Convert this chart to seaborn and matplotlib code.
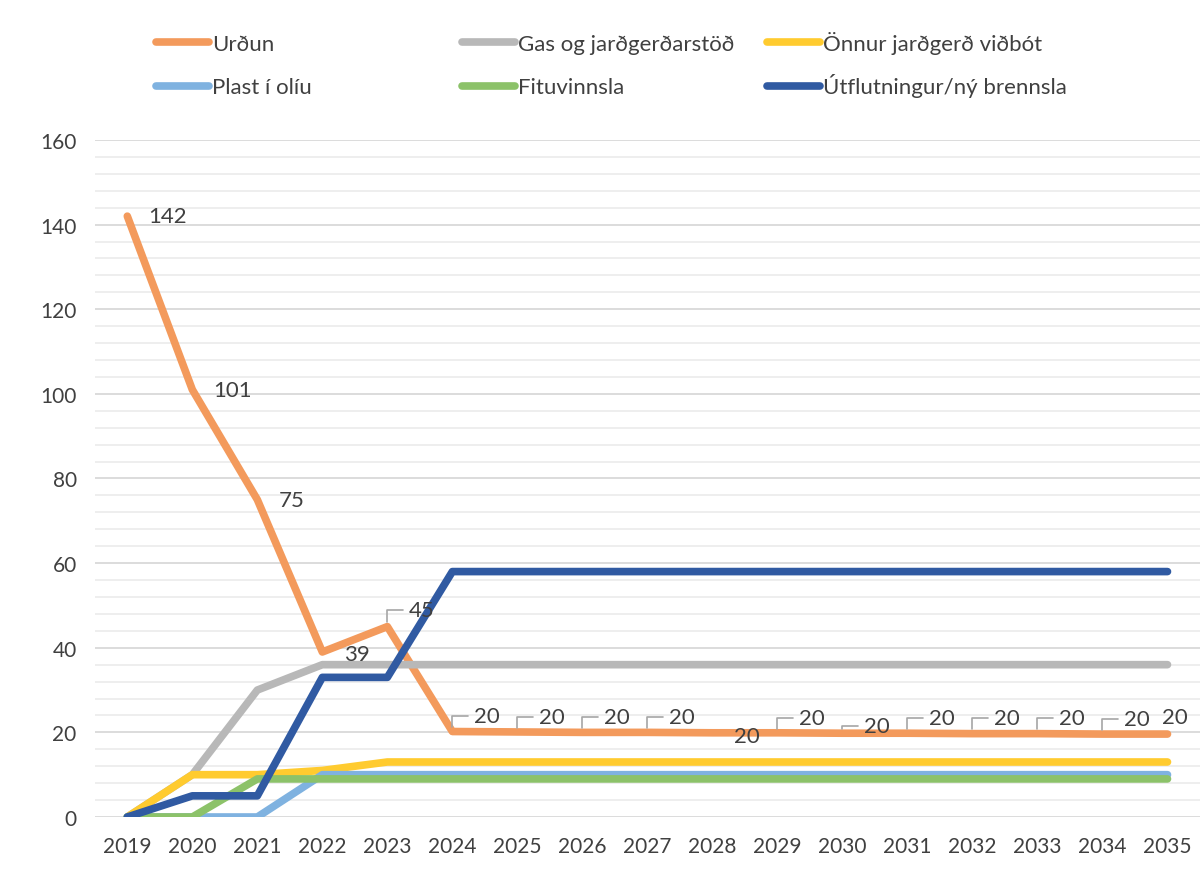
import pandas as pd
import matplotlib.pyplot as plt
import seaborn as sns
from matplotlib.lines import Line2D
from matplotlib.ticker import MultipleLocator

# data
years = list(range(2019, 2036))
series_names = ["Urðun", "Gas og jarðgerðarstöð", "Önnur jarðgerð viðbót",
                "Plast í olíu", "Fituvinnsla", "Útflutningur/ný brennsla"]
urdun = [142, 101, 75, 39, 45, 20.2, 20.1, 20.0, 20.0, 19.9, 19.9, 19.8, 19.8, 19.7, 19.7, 19.6, 19.6]
gas = [0, 10, 30, 36, 36, 36, 36, 36, 36, 36, 36, 36, 36, 36, 36, 36, 36]
onnur = [0, 10, 10, 11, 13, 13, 13, 13, 13, 13, 13, 13, 13, 13, 13, 13, 13]
plast = [0, 0, 0, 10, 10, 10, 10, 10, 10, 10, 10, 10, 10, 10, 10, 10, 10]
fitu = [0, 0, 9, 9, 9, 9, 9, 9, 9, 9, 9, 9, 9, 9, 9, 9, 9]
utfl = [0, 5, 5, 33, 33, 58, 58, 58, 58, 58, 58, 58, 58, 58, 58, 58, 58]

colors = ["#F39A5C", "#B8B8B8", "#FFCB2F", "#7FB2E0", "#8CC269", "#305AA2"]
text_col = "#404040"

rows = []
for name, vals in zip(series_names, [urdun, gas, onnur, plast, fitu, utfl]):
    for y, v in zip(years, vals):
        rows.append({"year": y, "value": v, "series": name})
df = pd.DataFrame(rows)

sns.set_theme(style="white")
plt.rcParams["font.family"] = ["Lato", "DejaVu Sans"]

fig = plt.figure(figsize=(12, 8.79), dpi=100)
ax = fig.add_axes([0.079, 0.0694, 0.921, 0.7702])

sns.lineplot(data=df, x="year", y="value", hue="series", hue_order=series_names,
             palette=colors, linewidth=5.5, legend=False, ax=ax)
for ln in ax.lines:
    ln.set_solid_capstyle("round")
    ln.set_solid_joinstyle("round")

ax.set_xlim(2018.5, 2035.5)
ax.set_ylim(0, 160)
ax.set_xticks(years)
ax.set_xticklabels([str(y) for y in years])
ax.yaxis.set_major_locator(MultipleLocator(20))
ax.yaxis.set_minor_locator(MultipleLocator(4))
ax.grid(axis="y", which="major", color="#D9D9D9", linewidth=1.3, zorder=0)
ax.grid(axis="y", which="minor", color="#EDEDED", linewidth=1.3, zorder=0)
ax.grid(axis="x", visible=False)
ax.set_axisbelow(True)
for s in ax.spines.values():
    s.set_visible(False)
ax.tick_params(axis="x", which="both", length=0, pad=14, labelsize=15, labelcolor=text_col)
ax.tick_params(axis="y", which="both", length=0, pad=13, labelsize=15, labelcolor=text_col)
ax.set_xlabel("")
ax.set_ylabel("")

# data labels for Urðun (offsets in points, leader flag)
label_offsets = [(29, 0, False), (29, 0, False), (25, 0, False), (25, -1.5, False),
                 (25, 12, True), (25, 11, True), (25, 11, True), (25, 11, True),
                 (25, 11, True), (25, -2, False), (25, 11, True), (25, 5, True),
                 (25, 11, True), (25, 11, True), (25, 11, True), (25, 11, True),
                 (5, 12, False)]
for y, v, (dx, dy, lead) in zip(years, urdun, label_offsets):
    kw = {}
    if lead:
        kw["arrowprops"] = dict(arrowstyle="-", color="#A6A6A6", lw=1.2,
                                connectionstyle="angle,angleA=0,angleB=90,rad=0",
                                shrinkA=2, shrinkB=3)
    ax.annotate(f"{v:.0f}", xy=(y, v), xytext=(dx, dy), textcoords="offset points",
                ha="center", va="center", fontsize=16, color=text_col, **kw)

# legend: two rows of three entries on a fixed grid (figure fraction)
col_x = [0.130, 0.385, 0.639]
row_y = [0.951, 0.901]
handle_w = 0.044
for i, name in enumerate(series_names):
    x0 = col_x[i % 3]
    y0 = row_y[i // 3]
    fig.add_artist(Line2D([x0, x0 + handle_w], [y0, y0], transform=fig.transFigure,
                          color=colors[i], lw=5.5, solid_capstyle="round"))
    fig.text(x0 + handle_w + 0.003, y0 - 0.0085, name, ha="left", va="baseline",
             fontsize=16, color=text_col)

fig.savefig("out.png", dpi=100)
